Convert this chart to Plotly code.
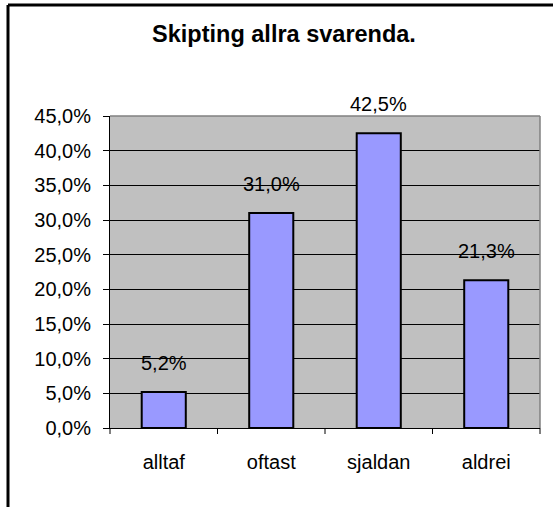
import plotly.graph_objects as go

categories = ["alltaf", "oftast", "sjaldan", "aldrei"]
values = [5.2, 31.0, 42.5, 21.3]
y_ticks = [0, 5, 10, 15, 20, 25, 30, 35, 40, 45]
y_tick_labels = [f"{t:.1f}".replace(".", ",") + "%" for t in y_ticks]
title_text = "Skipting allra svarenda."

W, H = 553, 507
L, R, T, B = 110, 540, 116, 428  # plot area in pixels

def px(x):
    return (x - L) / (R - L)

def py(y):
    return (B - y) / (B - T)

FONT = "Liberation Sans, Arial, sans-serif"

fig = go.Figure(
    go.Bar(
        x=categories,
        y=values,
        marker=dict(color="#9999FF", line=dict(color="black", width=2)),
        width=0.41,
        hoverinfo="skip",
    )
)

for c, v in zip(categories, values):
    fig.add_annotation(
        x=c, y=v, text=f"{v:.1f}".replace(".", ",") + "%",
        showarrow=False, yanchor="bottom", yshift=16,
        font=dict(family=FONT, size=20, color="black"),
    )

fig.update_layout(
    width=W, height=H,
    margin=dict(l=L, r=W - R, t=T, b=H - B, pad=0),
    paper_bgcolor="white",
    plot_bgcolor="#C0C0C0",
    showlegend=False,
    font=dict(family=FONT, size=20, color="black"),
    title=dict(
        text=f"<b>{title_text}</b>",
        x=px(284), xref="paper", xanchor="center",
        y=1 - 34 / H, yref="container", yanchor="middle",
        font=dict(family=FONT, size=23.5, color="black"),
    ),
    bargap=0.59,
    xaxis=dict(
        showgrid=False,
        showline=True, linecolor="black", linewidth=1,
        ticks="", tickfont=dict(size=20),
        ticklabelstandoff=16,
    ),
    yaxis=dict(
        range=[0, 45],
        tickvals=y_ticks,
        ticktext=y_tick_labels,
        showgrid=True, gridcolor="black", gridwidth=1,
        showline=True, linecolor="black", linewidth=1,
        ticks="outside", ticklen=6, tickcolor="black",
        tickfont=dict(size=20),
        ticklabelstandoff=8,
        zeroline=False,
    ),
)

# category boundary tick marks on x axis
for i in range(len(categories) + 1):
    fig.add_shape(type="line", xref="paper", yref="paper",
                  x0=i / len(categories), x1=i / len(categories),
                  y0=0, y1=py(B + 6), line=dict(color="black", width=1))

# plot area border (gray top/right)
fig.add_shape(type="line", xref="paper", yref="paper", x0=0, x1=1, y0=1, y1=1,
              line=dict(color="#808080", width=1.5))
fig.add_shape(type="line", xref="paper", yref="paper", x0=1, x1=1, y0=0, y1=1,
              line=dict(color="#808080", width=1.5))

# chart outer border (top and left visible)
fig.add_shape(type="line", xref="paper", yref="paper",
              x0=px(8), x1=px(560), y0=py(5), y1=py(5),
              line=dict(color="black", width=3))
fig.add_shape(type="line", xref="paper", yref="paper",
              x0=px(8), x1=px(8), y0=py(5), y1=py(515),
              line=dict(color="black", width=3))

fig.write_html(
    "out.html",
    config={"displayModeBar": False},
    post_script="document.body.style.margin='0';document.body.style.overflow='hidden';",
)
